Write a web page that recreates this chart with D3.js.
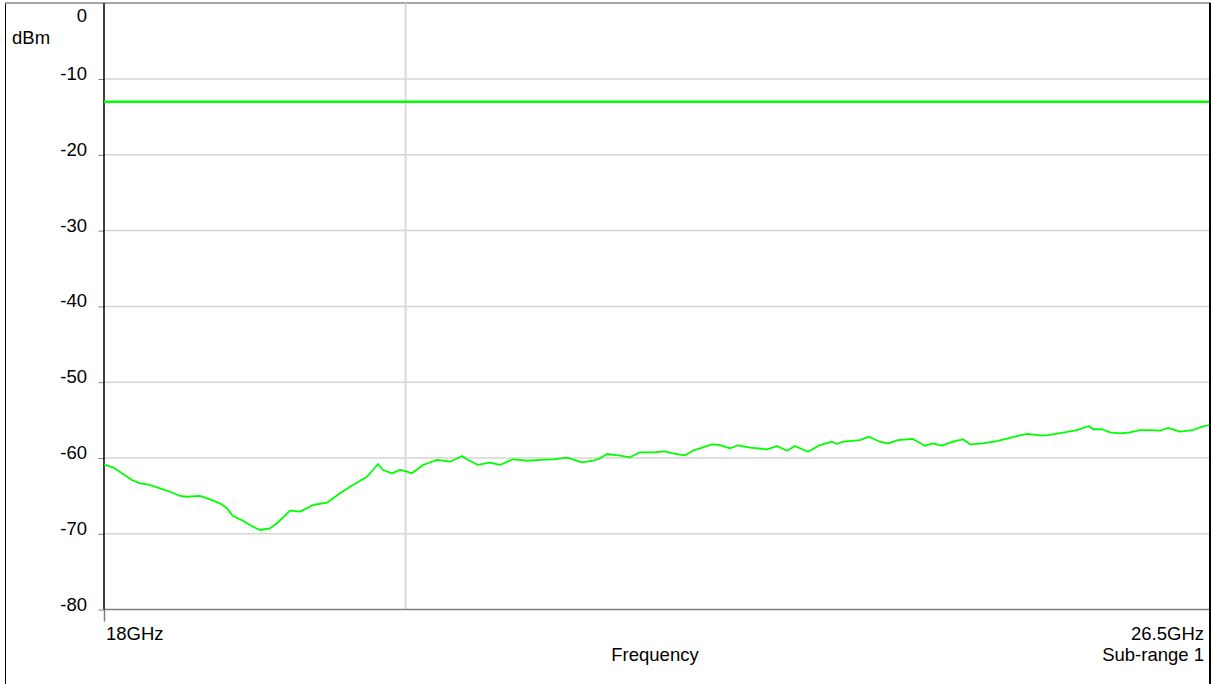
<!DOCTYPE html>
<html>
<head>
<meta charset="utf-8">
<script src="https://cdn.jsdelivr.net/npm/d3@7/dist/d3.min.js"></script>
<style>
  html, body { margin: 0; padding: 0; background: #fff; }
  svg { display: block; }
  text { font-family: "Liberation Sans", Arial, sans-serif; font-size: 18.5px; fill: #000; }
</style>
</head>
<body>
<svg id="chart" width="1211" height="684"></svg>
<script>
// Measured spectrum, frequency in GHz
const freqGHz = [
  18.000, 18.069, 18.138, 18.215, 18.277, 18.354, 18.431, 18.508, 18.585, 18.638,
  18.738, 18.815, 18.892, 18.946, 18.992, 19.069, 19.146, 19.200, 19.277, 19.331,
  19.431, 19.508, 19.608, 19.715, 19.815, 19.915, 20.023, 20.108, 20.146, 20.215,
  20.277, 20.331, 20.369, 20.454, 20.562, 20.662, 20.754, 20.792, 20.877, 20.969,
  21.046, 21.146, 21.254, 21.354, 21.454, 21.562, 21.677, 21.762, 21.815, 21.869,
  21.969, 22.046, 22.123, 22.223, 22.315, 22.377, 22.469, 22.531, 22.677, 22.738,
  22.815, 22.877, 22.969, 23.100, 23.177, 23.254, 23.315, 23.354, 23.415, 23.508,
  23.600, 23.638, 23.685, 23.815, 23.885, 23.969, 24.031, 24.108, 24.223, 24.315,
  24.377, 24.446, 24.531, 24.608, 24.662, 24.762, 24.869, 24.954, 25.023, 25.100,
  25.200, 25.262, 25.377, 25.485, 25.577, 25.608, 25.677, 25.738, 25.815, 25.892,
  25.969, 26.046, 26.123, 26.185, 26.277, 26.338, 26.377, 26.446, 26.500
];
// Measured level at each frequency, dBm
const levelDbm = [
  -60.86, -61.23, -62.02, -62.90, -63.34, -63.56, -64.00, -64.45, -65.01, -65.11,
  -65.01, -65.45, -65.98, -66.64, -67.65, -68.27, -69.06, -69.50, -69.27, -68.61,
  -66.95, -67.08, -66.20, -65.90, -64.66, -63.56, -62.47, -60.79, -61.58, -62.02,
  -61.56, -61.81, -62.02, -60.92, -60.26, -60.49, -59.74, -60.17, -60.92, -60.62,
  -60.92, -60.17, -60.36, -60.26, -60.17, -59.96, -60.57, -60.36, -60.04, -59.47,
  -59.70, -59.91, -59.25, -59.25, -59.12, -59.38, -59.64, -59.04, -58.19, -58.29,
  -58.72, -58.32, -58.64, -58.85, -58.42, -59.04, -58.42, -58.72, -59.17, -58.29,
  -57.85, -58.15, -57.85, -57.63, -57.19, -57.85, -58.06, -57.63, -57.49, -58.38,
  -58.06, -58.38, -57.85, -57.53, -58.19, -58.06, -57.76, -57.40, -57.10, -56.83,
  -57.01, -56.97, -56.66, -56.31, -55.78, -56.21, -56.21, -56.61, -56.74, -56.61,
  -56.31, -56.31, -56.40, -56.04, -56.53, -56.40, -56.31, -55.87, -55.65
];
// Limit line level and marker frequency
const limitDbm = -13;
const markerGHz = 20.32;
// Axis ticks
const yTickValues = [0, -10, -20, -30, -40, -50, -60, -70, -80];
const xStartLabel = "18GHz";
const xEndLabel = "26.5GHz";
const xTitle = "Frequency";
const yUnit = "dBm";
const rangeLabel = "Sub-range 1";

const svg = d3.select("#chart");
const W = 1211, H = 684;
const plotL = 104, plotR = 1209, plotT = 3.2, plotB = 609.6;

const x = d3.scaleLinear().domain([18, 26.5]).range([plotL, plotR]);
const y = d3.scaleLinear().domain([-80, 0]).range([plotB, plotT]);

// outer frame
svg.append("line").attr("x1", 5.5).attr("x2", 5.5).attr("y1", 3).attr("y2", H)
  .attr("stroke", "#000").attr("stroke-width", 1);
svg.append("line").attr("x1", 5).attr("x2", W).attr("y1", 3).attr("y2", 3)
  .attr("stroke", "#888").attr("stroke-width", 1.5);
svg.append("line").attr("x1", 1210).attr("x2", 1210).attr("y1", 3).attr("y2", H)
  .attr("stroke", "#000").attr("stroke-width", 2);

// horizontal grid
svg.append("g").selectAll("line")
  .data(yTickValues.filter(v => v !== 0 && v !== -80))
  .join("line")
  .attr("x1", plotL).attr("x2", plotR)
  .attr("y1", d => y(d)).attr("y2", d => y(d))
  .attr("stroke", "#d4d4d4").attr("stroke-width", 1.5);

// marker line
svg.append("line")
  .attr("x1", x(markerGHz)).attr("x2", x(markerGHz))
  .attr("y1", plotT).attr("y2", plotB)
  .attr("stroke", "#dadada").attr("stroke-width", 2);

// y axis ticks and labels (plain hyphen for negatives)
const yAxis = d3.axisLeft(y).tickValues(yTickValues).tickSize(5.5).tickPadding(11.5)
  .tickFormat(d => String(d));
const gy = svg.append("g").attr("transform", `translate(${plotL},0)`).call(yAxis);
gy.select(".domain").remove();
gy.selectAll(".tick line").attr("stroke", "#808080");
gy.selectAll(".tick text")
  .attr("font-family", null).attr("font-size", null)
  .attr("dy", d => d === 0 ? "18" : "0.5");
gy.selectAll(".tick").filter(d => d === 0).select("line").remove();

// x axis baseline
svg.append("line").attr("x1", plotL).attr("x2", plotR)
  .attr("y1", plotB).attr("y2", plotB)
  .attr("stroke", "#808080").attr("stroke-width", 1.5);
svg.append("line").attr("x1", plotL + 0.5).attr("x2", plotL + 0.5)
  .attr("y1", plotB).attr("y2", plotB + 12)
  .attr("stroke", "#808080").attr("stroke-width", 1.5);
// y axis line
svg.append("line").attr("x1", plotL).attr("x2", plotL)
  .attr("y1", plotT).attr("y2", plotB)
  .attr("stroke", "#000").attr("stroke-width", 1.5);

// labels
svg.append("text").attr("x", 12).attr("y", 43.5).text(yUnit);
svg.append("text").attr("x", x(18) + 2).attr("y", 640).text(xStartLabel);
svg.append("text").attr("x", x(26.5) - 5).attr("y", 640).attr("text-anchor", "end").text(xEndLabel);
svg.append("text").attr("x", 655).attr("y", 661).attr("text-anchor", "middle").text(xTitle);
svg.append("text").attr("x", x(26.5) - 5).attr("y", 661).attr("text-anchor", "end").text(rangeLabel);

// limit line
svg.append("line")
  .attr("x1", plotL).attr("x2", plotR)
  .attr("y1", y(limitDbm)).attr("y2", y(limitDbm))
  .attr("stroke", "#00ff00").attr("stroke-width", 2.5);

// trace
const pts = freqGHz.map((f, i) => [f, levelDbm[i]]);
svg.append("path")
  .datum(pts)
  .attr("fill", "none")
  .attr("stroke", "#00ff00")
  .attr("stroke-width", 1.8)
  .attr("stroke-linejoin", "round")
  .attr("d", d3.line().x(d => x(d[0])).y(d => y(d[1])));
</script>
</body>
</html>
